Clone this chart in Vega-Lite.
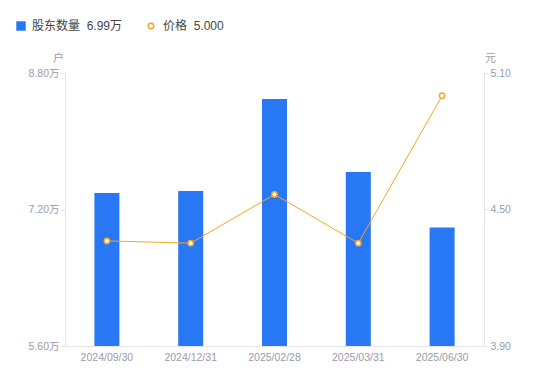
{
  "$schema": "https://vega.github.io/schema/vega-lite/v6.json",
  "width": 419,
  "height": 273,
  "autosize": {"type": "none"},
  "padding": {"left": 65, "top": 73, "right": 66, "bottom": 35},
  "background": "white",
  "config": {
    "view": {"stroke": null},
    "font": "Liberation Sans, Noto Sans CJK SC, sans-serif",
    "axis": {
      "grid": false,
      "domainColor": "#e3e3e8",
      "tickColor": "#e3e3e8",
      "labelColor": "#9a9aa8",
      "labelFontSize": 10.5,
      "labelFont": "Liberation Sans, Noto Sans CJK SC, sans-serif",
      "titleFont": "Noto Sans CJK SC",
      "titleColor": "#9a9aa8",
      "titleFontSize": 11,
      "titleFontWeight": "normal"
    },
    "legend": {
      "labelFont": "Liberation Sans, Noto Sans CJK SC, sans-serif",
      "labelFontSize": 12,
      "labelColor": "#444444",
      "title": null
    }
  },
  "data": {
    "values": [
      {"date": "2024/09/30", "holders": 73930, "price": 4.362},
      {"date": "2024/12/31", "holders": 74170, "price": 4.352},
      {"date": "2025/02/28", "holders": 84950, "price": 4.566},
      {"date": "2025/03/31", "holders": 76400, "price": 4.352},
      {"date": "2025/06/30", "holders": 69900, "price": 5.000}
    ]
  },
  "encoding": {
    "x": {
      "field": "date",
      "type": "ordinal",
      "sort": null,
      "scale": {"paddingInner": 0.7, "paddingOuter": 0.35},
      "axis": {"title": null, "labelAngle": 0, "ticks": false, "labelPadding": 6, "labelColor": "#9a9aa8"}
    }
  },
  "layer": [
    {
      "mark": {"type": "bar", "size": 25, "clip": true},
      "encoding": {
        "y": {
          "field": "holders",
          "type": "quantitative",
          "scale": {"domain": [56000, 88000], "nice": false, "zero": false},
          "axis": {
            "values": [56000, 72000, 88000],
            "labelExpr": "format(datum.value/10000, '.2f') + '万'",
            "title": "户",
            "titleAngle": 0,
            "titleX": -7,
            "titleY": -15,
            "titleAlign": "center",
            "titleBaseline": "middle",
            "tickSize": 4,
            "labelPadding": 2
          }
        },
        "color": {
          "datum": "股东数量",
          "type": "nominal",
          "scale": {"domain": ["股东数量"], "range": ["#2878F5"]},
          "legend": {
            "orient": "none",
            "legendX": -50,
            "legendY": -53,
            "symbolType": "square",
            "symbolSize": 90,
            "labelExpr": "datum.label + '\u00a0\u00a06.99万'",
            "labelOffset": 5
          }
        }
      }
    },
    {
      "mark": {"type": "line", "strokeWidth": 1, "point": {"filled": true, "fill": "white", "stroke": "#F5A623", "strokeWidth": 1.5, "size": 28}},
      "encoding": {
        "y": {
          "field": "price",
          "type": "quantitative",
          "scale": {"domain": [3.9, 5.1], "nice": false, "zero": false},
          "axis": {
            "orient": "right",
            "values": [3.9, 4.5, 5.1],
            "format": ".2f",
            "title": "元",
            "titleAngle": 0,
            "titleX": 6,
            "titleY": -15,
            "titleAlign": "center",
            "titleBaseline": "middle",
            "tickSize": 4,
            "labelPadding": 2
          }
        },
        "stroke": {
          "datum": "价格",
          "type": "nominal",
          "scale": {"domain": ["价格"], "range": ["#F5A623"]},
          "legend": {
            "orient": "none",
            "legendX": 80,
            "legendY": -53,
            "symbolType": "circle",
            "symbolSize": 30,
            "symbolFillColor": "white",
            "symbolStrokeWidth": 1.5,
            "labelExpr": "datum.label + '\u00a0\u00a05.000'",
            "labelOffset": 6
          }
        }
      }
    }
  ],
  "resolve": {"scale": {"y": "independent"}}
}
